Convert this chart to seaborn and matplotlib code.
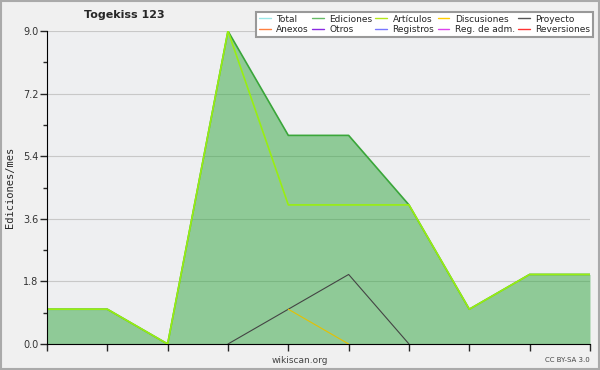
import matplotlib
matplotlib.use("Agg")
import matplotlib.pyplot as plt
import numpy as np
import pandas as pd
import seaborn as sns

# monthly edits
months = list(range(10))
ediciones = [1, 1, 0, 9, 6, 6, 4, 1, 2, 2]
articulos = [1, 1, 0, 9, 4, 4, 4, 1, 2, 2]
discusiones = [np.nan, np.nan, np.nan, np.nan, 1, 0, np.nan, np.nan, np.nan, np.nan]
proyecto = [np.nan, np.nan, np.nan, 0, 1, 2, 0, np.nan, np.nan, np.nan]

legend_names = ["Total", "Ediciones", "Artículos", "Discusiones", "Proyecto",
                "Anexos", "Otros", "Registros", "Reg. de adm.", "Reversiones"]
legend_colors = ["#99e6e6", "#66bb66", "#b3e61a", "#ffcc00", "#555555",
                 "#ff8040", "#8a2be2", "#7777ff", "#dd44ee", "#ff3333"]

sns.set_style("white")
plt.rcParams["font.family"] = ["DejaVu Sans"]

fig = plt.figure(figsize=(6, 3.7), dpi=100, facecolor="#f0f0f0")
ax = fig.add_axes([0.0783, 0.0703, 0.905, 0.8457])
ax.set_facecolor("#eeeff1")

df = pd.DataFrame({"x": months, "ed": ediciones, "art": articulos,
                   "disc": discusiones, "proy": proyecto})

ax.yaxis.grid(True, color="#c8c8c8", lw=0.8)
ax.set_axisbelow(True)
ax.fill_between(df["x"], df["ed"], color="#32a73f", alpha=0.5, lw=0, zorder=1)
sns.lineplot(data=df, x="x", y="ed", ax=ax, color="#3aa63a", lw=1.2, zorder=3)
sns.lineplot(data=df, x="x", y="art", ax=ax, color="#99ee11", lw=1.2, zorder=4)
sns.lineplot(data=df, x="x", y="proy", ax=ax, color="#444444", lw=0.8, zorder=5)
sns.lineplot(data=df, x="x", y="disc", ax=ax, color="#e6c000", lw=0.8, zorder=6)

ax.set_xlim(0, 9)
ax.set_ylim(0, 9)
ax.set_yticks([0, 1.8, 3.6, 5.4, 7.2, 9.0])
ax.set_yticks(np.arange(0.9, 9, 1.8), minor=True)
ax.set_yticklabels(["0.0", "1.8", "3.6", "5.4", "7.2", "9.0"], fontsize=7, color="#333333")
ax.set_xticks(months)
ax.set_xticklabels([])
ax.tick_params(axis="y", which="major", length=5, width=1, direction="out", left=True, pad=1)
ax.tick_params(axis="y", which="minor", length=3, width=1, direction="out", left=True)
ax.tick_params(axis="x", length=5, width=1, direction="out", bottom=True)
for s in ["top", "right"]:
    ax.spines[s].set_visible(False)
ax.spines["left"].set_color("black")
ax.spines["bottom"].set_color("black")
ax.spines["left"].set_zorder(7)
ax.set_xlabel("")
ax.set_ylabel("Ediciones/mes", fontsize=7.5, family="DejaVu Sans Mono")
ax.yaxis.set_label_coords(-0.059, 0.5)

# legend handles, column-wise order for ncol=5
handles = [plt.Line2D([], [], color=c, lw=1) for c in legend_colors]
order = [0, 5, 1, 6, 2, 7, 3, 8, 4, 9]
leg = fig.legend([handles[i] for i in order], [legend_names[i] for i in order],
                 ncol=5, loc="upper right", bbox_to_anchor=(0.988, 0.968),
                 fontsize=6.5, handlelength=1.3, handletextpad=0.6,
                 columnspacing=0.35, labelspacing=0.15, borderpad=0.3,
                 borderaxespad=0, frameon=True, fancybox=False, framealpha=1)
leg.get_frame().set_edgecolor("#999999")
leg.get_frame().set_linewidth(1.5)

fig.text(0.208, 0.96, "Togekiss 123", fontsize=8, fontweight="bold", ha="center", va="center")
fig.text(0.5, 0.027, "wikiscan.org", fontsize=6.5, ha="center", va="center", color="#444444")
fig.text(0.983, 0.027, "CC BY-SA 3.0", fontsize=5, ha="right", va="center", color="#444444")

# outer grey border
fig.patches.append(plt.Rectangle((0.002, 0.003), 0.996, 0.994, transform=fig.transFigure,
                                 fill=False, edgecolor="#aaaaaa", lw=1.5))

fig.savefig("out.png", dpi=100, facecolor=fig.get_facecolor())
